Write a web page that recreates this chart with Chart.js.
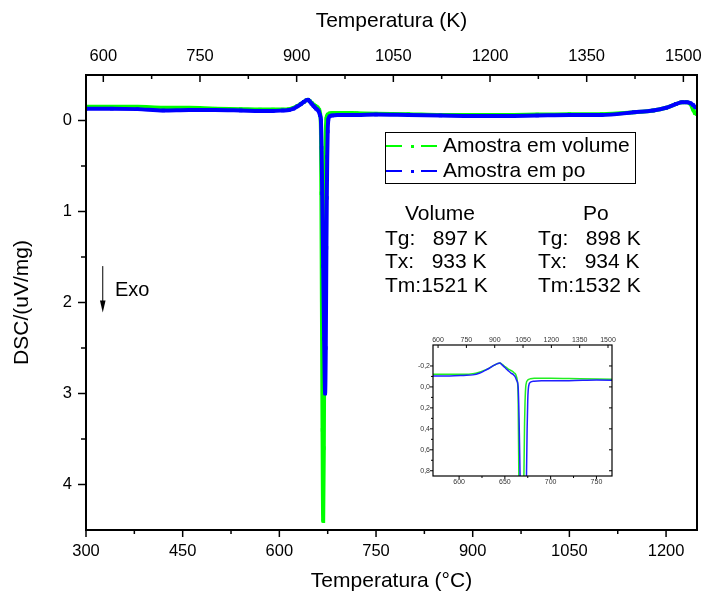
<!DOCTYPE html>
<html>
<head>
<meta charset="utf-8">
<title>DSC</title>
<script src="https://cdn.jsdelivr.net/npm/chart.js"></script>
<style>
  body { margin: 0; background: #fff; }
  #wrap { position: relative; width: 703px; height: 596px; font-family: Arial, "Liberation Sans", Helvetica, sans-serif; color: #000; }
  #main { position: absolute; left: 0; top: 0; }
  #inset { position: absolute; left: 405px; top: 333px; }
  #legend { position: absolute; left: 385px; top: 132px; width: 249px; height: 50px; border: 1px solid #000; background: #fff; }
  #legend .row { position: absolute; left: 57px; font-size: 21px; line-height: 21px; white-space: pre; }
  #legend .sample { position: absolute; height: 2px; }
  #legend .dot { position: absolute; width: 3px; height: 3px; }
  .note { position: absolute; font-size: 21px; line-height: 21px; white-space: pre; }
  .exo { position: absolute; left: 115px; top: 279px; font-size: 20px; line-height: 20px; }
</style>
</head>
<body>
<div id="wrap">
  <canvas id="main" width="703" height="596"></canvas>
  <canvas id="inset" width="215" height="159"></canvas>
  <div id="legend">
    <div class="sample" style="left:0px;top:12px;width:16px;background:#00ff00"></div>
    <div class="dot" style="left:25px;top:11.5px;background:#00ff00"></div>
    <div class="sample" style="left:35px;top:12px;width:16px;background:#00ff00"></div>
    <div class="row" style="top:1px">Amostra em volume</div>
    <div class="sample" style="left:0px;top:37px;width:16px;background:#0000ff"></div>
    <div class="dot" style="left:25px;top:36.5px;background:#0000ff"></div>
    <div class="sample" style="left:35px;top:37px;width:16px;background:#0000ff"></div>
    <div class="row" style="top:26px">Amostra em po</div>
  </div>
  <div class="note" style="left:405px;top:202px">Volume</div>
  <div class="note" style="left:385px;top:227px">Tg:   897 K</div>
  <div class="note" style="left:385px;top:250px">Tx:   933 K</div>
  <div class="note" style="left:385px;top:274px">Tm:1521 K</div>
  <div class="note" style="left:583px;top:202px">Po</div>
  <div class="note" style="left:538px;top:227px">Tg:   898 K</div>
  <div class="note" style="left:538px;top:250px">Tx:   934 K</div>
  <div class="note" style="left:538px;top:274px">Tm:1532 K</div>
  <div class="exo">Exo</div>
</div>

<script>
// amostra em volume (verde)
const tempVolume = [300, 340, 380, 420, 460, 500, 540, 570, 590, 605, 615, 622, 628, 633, 638, 642, 644.5, 647, 650, 653, 656, 658, 660, 662, 663.5, 664.5, 665.2, 666, 667, 668, 669, 670, 670.8, 671.5, 672, 673, 675, 678, 682, 690, 700, 720, 750, 800, 850, 900, 950, 1000, 1050, 1100, 1150, 1180, 1200, 1215, 1225, 1232, 1238, 1242, 1245, 1248];
const dscVolume  = [-0.15, -0.15, -0.15, -0.14, -0.14, -0.13, -0.125, -0.12, -0.12, -0.12, -0.125, -0.14, -0.16, -0.18, -0.205, -0.222, -0.228, -0.215, -0.195, -0.175, -0.16, -0.15, -0.135, -0.115, -0.06, 0.1, 0.8, 2.0, 3.4, 4.4, 3.6, 2.0, 0.85, 0.35, 0.15, -0.02, -0.065, -0.078, -0.083, -0.083, -0.083, -0.08, -0.075, -0.07, -0.06, -0.06, -0.06, -0.065, -0.07, -0.07, -0.09, -0.11, -0.14, -0.18, -0.2, -0.2, -0.18, -0.12, -0.08, -0.07];

// amostra em po (azul)
const tempPo = [300, 340, 380, 420, 460, 500, 540, 570, 590, 605, 615, 622, 628, 633, 638, 642, 644.5, 647, 650, 653, 655, 657, 659, 661, 663, 664.5, 665.5, 666.5, 668, 669.5, 671, 672, 673, 673.6, 674.3, 675, 676, 678, 682, 690, 700, 720, 750, 800, 850, 900, 950, 1000, 1050, 1100, 1150, 1180, 1200, 1215, 1225, 1232, 1238, 1242, 1245, 1248];
const dscPo      = [-0.13, -0.13, -0.125, -0.11, -0.115, -0.115, -0.11, -0.105, -0.105, -0.11, -0.115, -0.13, -0.155, -0.178, -0.205, -0.222, -0.228, -0.21, -0.185, -0.16, -0.145, -0.13, -0.12, -0.1, -0.06, 0.0, 0.3, 0.8, 1.6, 2.4, 3.0, 2.5, 1.4, 0.85, 0.4, 0.12, -0.01, -0.045, -0.055, -0.06, -0.06, -0.06, -0.065, -0.06, -0.055, -0.05, -0.05, -0.055, -0.06, -0.06, -0.09, -0.11, -0.14, -0.18, -0.2, -0.2, -0.19, -0.17, -0.15, -0.14];

// eixos
const xTicksC = [300, 450, 600, 750, 900, 1050, 1200];
const xTicksK = [600, 750, 900, 1050, 1200, 1350, 1500];
const yTicks = [0, 1, 2, 3, 4];
const insetXTicks = [600, 650, 700, 750];
const insetYTicks = [-0.2, 0, 0.2, 0.4, 0.6, 0.8];

const xMin = 300, xMax = 1248;
const kOffset = 273.15;

const FONT = 'Arial, "Liberation Sans", Helvetica, sans-serif';

function pts(xs, ys) {
  return xs.map((x, i) => ({ x: x, y: ys[i] }));
}
function minors(majors) {
  return majors.slice(1).map((v, i) => (v + majors[i]) / 2);
}
function useTicks(values) {
  return s => { s.ticks = values.map(v => ({ value: v })); };
}
function fixedSize(size) {
  return s => {
    if (s.isHorizontal()) s.height = size; else s.width = size;
    s.paddingLeft = s.paddingRight = s.paddingTop = s.paddingBottom = 0;
  };
}
const noGrid = { display: false, drawTicks: false };

// moldura e marcas dos eixos
const frameTicks = {
  id: 'frameTicks',
  afterDraw(chart, args, opts) {
    const { ctx, chartArea: a } = chart;
    ctx.save();
    ctx.strokeStyle = '#000';
    ctx.lineWidth = opts.frameWidth;
    ctx.strokeRect(a.left, a.top, a.right - a.left, a.bottom - a.top);
    ctx.lineWidth = opts.tickWidth;
    opts.marks.forEach(m => {
      const s = chart.scales[m.scale];
      m.values.forEach(v => {
        const p = s.getPixelForValue(v);
        ctx.beginPath();
        if (m.side === 'bottom') { ctx.moveTo(p, a.bottom); ctx.lineTo(p, a.bottom + m.len); }
        if (m.side === 'top') { ctx.moveTo(p, a.top); ctx.lineTo(p, a.top - m.len); }
        if (m.side === 'left') { ctx.moveTo(a.left, p); ctx.lineTo(a.left - m.len, p); }
        if (m.side === 'right') { ctx.moveTo(a.right, p); ctx.lineTo(a.right + m.len, p); }
        ctx.stroke();
      });
    });
    // seta "Exo"
    if (opts.arrow) {
      const x = chart.scales.x.getPixelForValue(opts.arrow.x);
      const y1 = chart.scales.y.getPixelForValue(opts.arrow.from);
      const y2 = chart.scales.y.getPixelForValue(opts.arrow.to);
      ctx.lineWidth = 1;
      ctx.beginPath();
      ctx.moveTo(x, y1);
      ctx.lineTo(x, y2 - 10);
      ctx.stroke();
      ctx.fillStyle = '#000';
      ctx.beginPath();
      ctx.moveTo(x - 2.8, y2 - 12);
      ctx.lineTo(x + 2.8, y2 - 12);
      ctx.lineTo(x, y2);
      ctx.closePath();
      ctx.fill();
    }
    ctx.restore();
  }
};

const mainFont = { family: FONT, size: 16.5 };
const titleFont = { family: FONT, size: 21 };

new Chart(document.getElementById('main'), {
  type: 'scatter',
  data: {
    datasets: [
      {
        data: pts(tempVolume, dscVolume),
        showLine: true,
        borderColor: '#00ff00',
        backgroundColor: '#00ff00',
        borderWidth: 4,
        pointStyle: 'rect',
        pointRadius: 2.5,
        pointBorderWidth: 0,
        cubicInterpolationMode: 'monotone',
        order: 2
      },
      {
        data: pts(tempPo, dscPo),
        showLine: true,
        borderColor: '#0000ff',
        backgroundColor: '#0000ff',
        borderWidth: 4,
        pointStyle: 'rect',
        pointRadius: 2.5,
        pointBorderWidth: 0,
        cubicInterpolationMode: 'monotone',
        order: 1
      }
    ]
  },
  options: {
    responsive: false,
    animation: false,
    events: [],
    layout: { padding: { left: 0, right: 6, top: 0, bottom: 0 } },
    plugins: {
      legend: { display: false },
      tooltip: { enabled: false },
      frameTicks: {
        frameWidth: 2,
        tickWidth: 1.5,
        marks: [
          { scale: 'x', side: 'bottom', values: xTicksC, len: 7 },
          { scale: 'x', side: 'bottom', values: minors(xTicksC), len: 4 },
          { scale: 'x2', side: 'top', values: xTicksK, len: -7 },
          { scale: 'x2', side: 'top', values: minors(xTicksK), len: -4 },
          { scale: 'y', side: 'left', values: yTicks, len: 8 },
          { scale: 'y', side: 'left', values: minors(yTicks), len: 5 }
        ],
        arrow: { x: 326, from: 1.6, to: 2.11 }
      }
    },
    scales: {
      x: {
        type: 'linear', position: 'bottom', min: xMin, max: xMax,
        afterBuildTicks: useTicks(xTicksC), afterFit: fixedSize(66),
        grid: noGrid, border: { display: false },
        ticks: { color: '#000', font: mainFont, padding: 12, maxRotation: 0, autoSkip: false, callback: v => v },
        title: { display: true, text: 'Temperatura (°C)', color: '#000', font: titleFont, padding: { top: 0, bottom: 2 } }
      },
      x2: {
        type: 'linear', position: 'top', min: xMin + kOffset, max: xMax + kOffset,
        afterBuildTicks: useTicks(xTicksK), afterFit: fixedSize(75),
        grid: noGrid, border: { display: false },
        ticks: { color: '#000', font: mainFont, padding: 9, maxRotation: 0, autoSkip: false, callback: v => v },
        title: { display: true, text: 'Temperatura (K)', color: '#000', font: titleFont, padding: { top: 9, bottom: 0 } }
      },
      y: {
        type: 'linear', position: 'left', min: -0.5, max: 4.5, reverse: true,
        afterBuildTicks: useTicks(yTicks), afterFit: fixedSize(86),
        grid: noGrid, border: { display: false },
        ticks: { color: '#000', font: mainFont, padding: 14, callback: v => v },
        title: { display: true, text: 'DSC/(uV/mg)', color: '#000', font: titleFont, padding: { top: 10, bottom: 0 } }
      }
    }
  },
  plugins: [frameTicks]
});

// grafico inserido
const insetFont = { family: FONT, size: 7 };

new Chart(document.getElementById('inset'), {
  type: 'scatter',
  data: {
    datasets: [
      {
        data: pts(tempVolume, dscVolume),
        showLine: true,
        borderColor: '#22ee22',
        borderWidth: 1.5,
        pointRadius: 0,
        cubicInterpolationMode: 'monotone',
        order: 2
      },
      {
        data: pts(tempPo, dscPo),
        showLine: true,
        borderColor: '#1f1fff',
        borderWidth: 1.5,
        pointRadius: 0,
        cubicInterpolationMode: 'monotone',
        order: 1
      }
    ]
  },
  options: {
    responsive: false,
    animation: false,
    events: [],
    layout: { padding: { left: 0, right: 8, top: 0, bottom: 0 } },
    plugins: {
      legend: { display: false },
      tooltip: { enabled: false },
      frameTicks: {
        frameWidth: 1.2,
        tickWidth: 1,
        marks: [
          { scale: 'x', side: 'bottom', values: insetXTicks, len: 3 },
          { scale: 'x', side: 'bottom', values: minors(insetXTicks), len: 2 },
          { scale: 'x2', side: 'top', values: xTicksK, len: -3 },
          { scale: 'y', side: 'left', values: insetYTicks, len: 3 },
          { scale: 'y', side: 'left', values: minors(insetYTicks), len: 2 },
          { scale: 'y', side: 'right', values: insetYTicks, len: -3 }
        ]
      }
    },
    scales: {
      x: {
        type: 'linear', position: 'bottom', min: 571.5, max: 767,
        afterBuildTicks: useTicks(insetXTicks), afterFit: fixedSize(16),
        grid: noGrid, border: { display: false },
        ticks: { color: '#333', font: insetFont, padding: 2, maxRotation: 0, autoSkip: false, callback: v => v }
      },
      x2: {
        type: 'linear', position: 'top', min: xMin + kOffset, max: xMax + kOffset,
        afterBuildTicks: useTicks(xTicksK), afterFit: fixedSize(12),
        grid: noGrid, border: { display: false },
        ticks: { color: '#333', font: insetFont, padding: 1, maxRotation: 0, autoSkip: false, callback: v => v }
      },
      y: {
        type: 'linear', position: 'left', min: -0.4, max: 0.85, reverse: true,
        afterBuildTicks: useTicks(insetYTicks), afterFit: fixedSize(28),
        grid: noGrid, border: { display: false },
        ticks: { color: '#333', font: insetFont, padding: 3, callback: v => v.toFixed(1).replace('.', ',') }
      }
    }
  },
  plugins: [frameTicks]
});
</script>
</body>
</html>
